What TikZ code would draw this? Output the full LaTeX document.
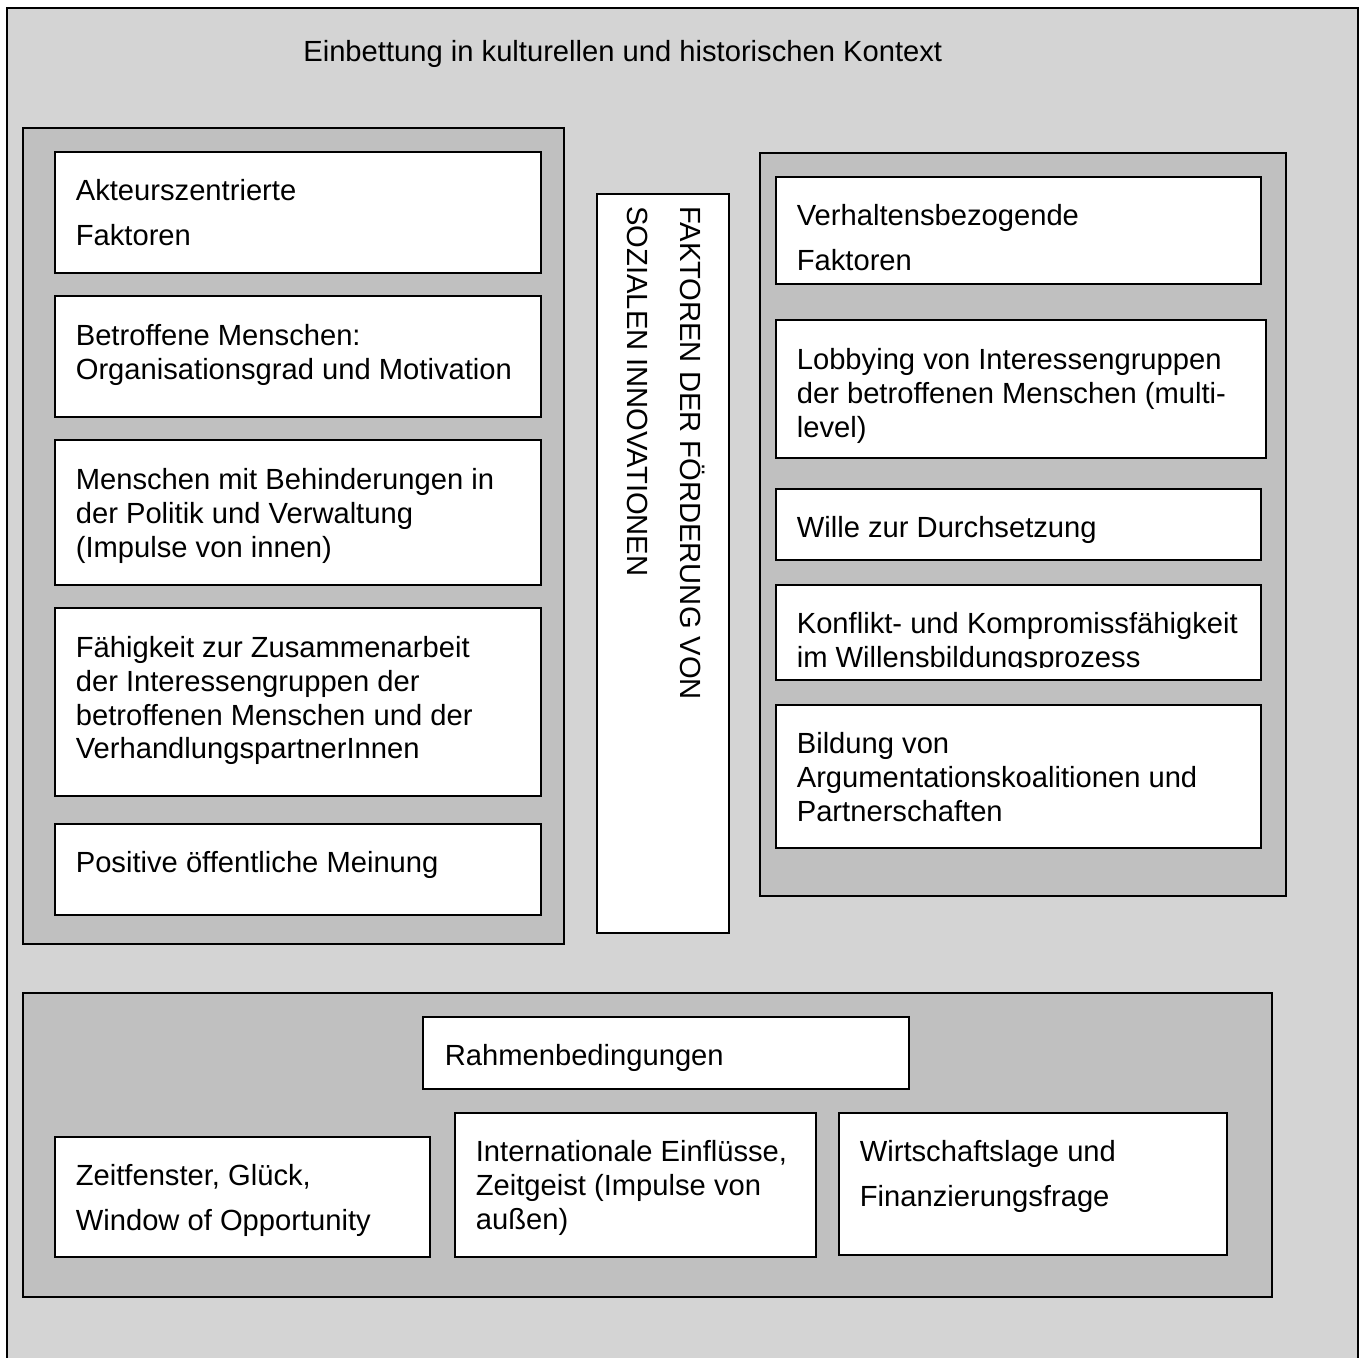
\documentclass[tikz,border=0pt]{standalone}
\usepackage{fontspec}
\setmainfont{Liberation Sans}
\usetikzlibrary{fit,calc}
\definecolor{backgray}{RGB}{212,212,212}
\definecolor{panelgray}{RGB}{192,192,192}
\begin{document}
\begin{tikzpicture}[
    x=0.02cm, y=-0.02cm,
    panel/.style={draw=black, line width=1.1pt, fill=panelgray, inner sep=0pt},
    box/.style={draw=black, line width=0.6pt, fill=white, inner sep=0pt},
    txt/.style={anchor=north west, inner sep=0pt, align=left, font=\fontsize{16.6}{19.1}\selectfont}
]
  \useasboundingbox (0,0) rectangle (1367,1358);

  % Context frame
  \fill[backgray] (7,8) rectangle (1358,1370);
  \draw[line width=1.1pt] (7,1370) -- (7,8) -- (1358,8) -- (1358,1370);
  \node[txt] (kontext) at (303,40) {Einbettung in kulturellen und historischen Kontext};

  % Actor-centred factors
  \node[panel, fit={(23,128) (564,944)}] (akteure) {};
  \node[box, fit={(55,152) (541,273)}] (akteur) {};
  \node[box, fit={(55,296) (541,417)}] (betroffen) {};
  \node[box, fit={(55,440) (541,585)}] (behind) {};
  \node[box, fit={(55,608) (541,796)}] (zusammen) {};
  \node[box, fit={(55,824) (541,915)}] (meinung) {};

  \node[txt] (akteur-t) at ($(akteur.north west)+(21,28)$) {Akteurszentrierte\\[6pt]Faktoren};
  \node[txt] (betroffen-t) at ($(betroffen.north west)+(21,29)$) {Betroffene Menschen:\\Organisationsgrad und Motivation};
  \node[txt] (behind-t) at ($(behind.north west)+(21,29)$) {Menschen mit Behinderungen in\\der Politik und Verwaltung\\(Impulse von innen)};
  \node[txt] (zusammen-t) at ($(zusammen.north west)+(21,29)$) {Fähigkeit zur Zusammenarbeit\\der Interessengruppen der\\betroffenen Menschen und der\\VerhandlungspartnerInnen};
  \node[txt] (meinung-t) at ($(meinung.north west)+(21,28)$) {Positive öffentliche Meinung};

  % Title column
  \node[box, fit={(597,194) (729,933)}] (titel) {};
  \node[txt, rotate=-90, font=\fontsize{16.6}{30}\selectfont] (titel-t) at (705,206)
    {FAKTOREN DER FÖRDERUNG VON\\SOZIALEN INNOVATIONEN};

  % Behaviour-related factors
  \node[panel, fit={(760,153) (1286,896)}] (verhalten) {};
  \node[box, fit={(776,177) (1261,284)}] (bezogen) {};
  \node[box, fit={(776,320) (1266,458)}] (lobby) {};
  \node[box, fit={(776,489) (1261,560)}] (wille) {};
  \node[box, fit={(776,585) (1261,680)}] (konflikt) {};
  \node[box, fit={(776,705) (1261,848)}] (bildung) {};

  \node[txt] (bezogen-t) at ($(bezogen.north west)+(21,28)$) {Verhaltensbezogende\\[6pt]Faktoren};
  \node[txt] (lobby-t) at ($(lobby.north west)+(21,29)$) {Lobbying von Interessengruppen\\der betroffenen Menschen (multi-\\level)};
  \node[txt] (wille-t) at ($(wille.north west)+(21,28)$) {Wille zur Durchsetzung};
  \begin{scope}
    \clip (776,585) rectangle (1261,668);
    \node[txt] (konflikt-t) at ($(konflikt.north west)+(21,28)$) {Konflikt- und Kompromissfähigkeit\\im Willensbildungsprozess};
  \end{scope}
  \node[txt] (bildung-t) at ($(bildung.north west)+(21,28)$) {Bildung von\\Argumentationskoalitionen und\\Partnerschaften};

  % Framework conditions
  \node[panel, fit={(23,993) (1272,1297)}] (rahmen) {};
  \node[box, fit={(423,1017) (909,1089)}] (bedingung) {};
  \node[box, fit={(55,1137) (430,1257)}] (zeit) {};
  \node[box, fit={(455,1113) (816,1257)}] (inter) {};
  \node[box, fit={(839,1113) (1227,1255)}] (wirtschaft) {};

  \node[txt] (bedingung-t) at ($(bedingung.north west)+(22,28)$) {Rahmenbedingungen};
  \node[txt] (zeit-t) at ($(zeit.north west)+(21,28)$) {Zeitfenster, Glück,\\[6pt]Window of Opportunity};
  \node[txt] (inter-t) at ($(inter.north west)+(21,28)$) {Internationale Einflüsse,\\Zeitgeist (Impulse von\\außen)};
  \node[txt] (wirtschaft-t) at ($(wirtschaft.north west)+(21,28)$) {Wirtschaftslage und\\[6pt]Finanzierungsfrage};
\end{tikzpicture}
\end{document}
